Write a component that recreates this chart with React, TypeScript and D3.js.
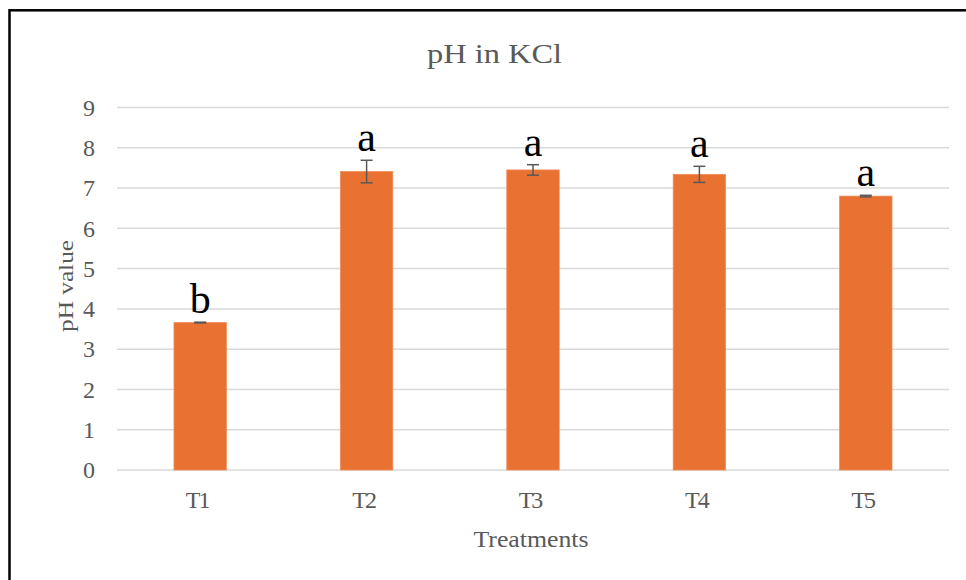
import React from "react";
import * as d3 from "d3";

const categories = ["T1", "T2", "T3", "T4", "T5"];
const values = [3.66, 7.41, 7.45, 7.34, 6.8];
const errors = [0.01, 0.28, 0.13, 0.2, 0.02];
const letters = ["b", "a", "a", "a", "a"];
const yTicks = [0, 1, 2, 3, 4, 5, 6, 7, 8, 9];
const title = "pH in KCl";
const xTitle = "Treatments";
const yTitle = "pH value";

const W = 966;
const H = 580;
const plotLeft = 117;
const plotRight = 949;
const plotTop = 107.5;
const plotBottom = 470;
const serif = "'Liberation Serif', 'Times New Roman', serif";
const gray = "#595959";

export default function App() {
  const x = d3.scaleBand<string>().domain(categories).range([plotLeft, plotRight]).paddingInner(0.685).paddingOuter(0.3425);
  const y = d3.scaleLinear().domain([0, 9]).range([plotBottom, plotTop]);
  const bw = x.bandwidth();

  return (
    <svg width={W} height={H} style={{ position: "absolute", left: 0, top: 0, background: "#fff" }}>
      <rect x={0} y={0} width={W} height={H} fill="#fff" />
      <rect x={9.5} y={10.3} width={W + 20} height={H + 20} fill="none" stroke="#000" strokeWidth={2.5} />
      <text x={494.5} y={63.3} textAnchor="middle" fontFamily={serif} fontSize={28} fill={gray} textLength={135} lengthAdjust="spacingAndGlyphs">
        {title}
      </text>
      {yTicks.map((t) => (
        <g key={t}>
          <line x1={plotLeft} x2={plotRight} y1={y(t)} y2={y(t)} stroke="#D9D9D9" strokeWidth={1.5} />
          <text x={95} y={y(t) + 8.3} textAnchor="end" fontFamily={serif} fontSize={24} fill={gray}>
            {t}
          </text>
        </g>
      ))}
      {categories.map((c, i) => {
        const bx = x(c) as number;
        const cx = bx + bw / 2;
        const top = y(values[i] + errors[i]);
        return (
          <g key={c}>
            <rect x={bx} y={y(values[i])} width={bw} height={plotBottom - y(values[i])} fill="#E97132" stroke="#F08A55" strokeWidth={0.75} />
            <line x1={cx} x2={cx} y1={y(values[i] + errors[i])} y2={y(values[i] - errors[i])} stroke={gray} strokeWidth={1.5} />
            <line x1={cx - 6} x2={cx + 6} y1={y(values[i] + errors[i])} y2={y(values[i] + errors[i])} stroke={gray} strokeWidth={1.5} />
            <line x1={cx - 6} x2={cx + 6} y1={y(values[i] - errors[i])} y2={y(values[i] - errors[i])} stroke={gray} strokeWidth={1.5} />
            <text x={cx} y={top - 9} textAnchor="middle" fontFamily={serif} fontSize={42} fill="#000">
              {letters[i]}
            </text>
            <text x={cx - 3} y={508} textAnchor="middle" fontFamily={serif} fontSize={24} fill={gray} letterSpacing={-2}>
              {c}
            </text>
          </g>
        );
      })}
      <text x={531} y={546.7} textAnchor="middle" fontFamily={serif} fontSize={24} fill={gray} textLength={115} lengthAdjust="spacingAndGlyphs">
        {xTitle}
      </text>
      <text transform={`translate(73,286) rotate(-90)`} textAnchor="middle" fontFamily={serif} fontSize={22} fill={gray} textLength={92} lengthAdjust="spacingAndGlyphs">
        {yTitle}
      </text>
    </svg>
  );
}
